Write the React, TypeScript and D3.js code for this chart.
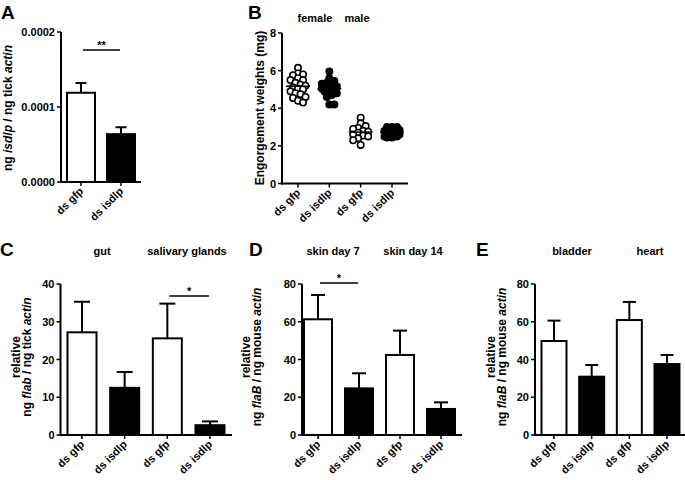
import React from 'react';
import * as d3 from 'd3';

const FONT = '"Liberation Sans", Arial, Helvetica, sans-serif';

// ---------------- Data ----------------
// Panel A
const aCategories = ['ds gfp', 'ds isdlp'];
const aMeans = [0.000119, 0.0000638];
const aErrors = [0.000013, 0.0000092];
const aTicks = [0, 0.0001, 0.0002];
const aSig = [{ from: 0, to: 1, value: 0.000176, label: '**' }];

// Panel B
const bCategories = ['ds gfp', 'ds isdlp', 'ds gfp', 'ds isdlp'];
const bHeaders = ['female', 'male'];
const bFemaleGfp = [6.15, 5.85, 5.8, 5.75, 5.6, 5.5, 5.5, 5.35, 5.25, 5.2, 5.1, 5.05, 5.0, 4.9, 4.8, 4.75, 4.6, 4.55, 4.4, 4.3];
const bFemaleIsdlp = [5.95, 5.6, 5.45, 5.35, 5.3, 5.2, 5.15, 5.1, 5.05, 5.0, 4.95, 4.9, 4.8, 4.7, 4.6, 4.2, 4.2];
const bMaleGfp = [3.5, 3.2, 3.05, 2.95, 2.9, 2.8, 2.75, 2.7, 2.6, 2.55, 2.5, 2.4, 2.3, 2.05];
const bMaleIsdlp = [3.0, 3.0, 3.0, 2.95, 2.9, 2.85, 2.8, 2.75, 2.7, 2.65, 2.6, 2.6, 2.55, 2.5, 2.5, 2.45, 2.45];
const bTicks = [0, 2, 4, 6, 8];

// Panel C
const cCategories = ['ds gfp', 'ds isdlp', 'ds gfp', 'ds isdlp'];
const cHeaders = ['gut', 'salivary glands'];
const cMeans = [27.2, 12.5, 25.6, 2.6];
const cErrors = [8.1, 4.2, 9.2, 1.0];
const cTicks = [0, 10, 20, 30, 40];
const cSig = [{ from: 2, to: 3, value: 36.8, label: '*' }];

// Panel D
const dCategories = ['ds gfp', 'ds isdlp', 'ds gfp', 'ds isdlp'];
const dHeaders = ['skin day 7', 'skin day 14'];
const dMeans = [61.3, 24.7, 42.4, 13.8];
const dErrors = [12.9, 8.0, 12.9, 3.5];
const dTicks = [0, 20, 40, 60, 80];
const dSig = [{ from: 0, to: 1, value: 80.5, label: '*' }];

// Panel E
const eCategories = ['ds gfp', 'ds isdlp', 'ds gfp', 'ds isdlp'];
const eHeaders = ['bladder', 'heart'];
const eMeans = [49.8, 30.9, 60.9, 37.6];
const eErrors = [10.8, 6.2, 9.6, 4.8];
const eTicks = [0, 20, 40, 60, 80];

// ---------------- Helpers ----------------
type Sig = { from: number; to: number; value: number; label: string };

function YLabelLines({ xs, y, lines, size = 12 }: { xs: number[]; y: number; lines: React.ReactNode[]; size?: number }) {
  return (
    <g>
      {lines.map((ln, i) => (
        <text
          key={i}
          transform={`translate(${xs[i]},${y}) rotate(-90)`}
          textAnchor="middle"
          fontFamily={FONT}
          fontWeight="bold"
          fontSize={size}
        >
          {ln}
        </text>
      ))}
    </g>
  );
}

function Axes({
  x,
  axisX,
  xEnd,
  y,
  ticks,
  fmt,
  categories,
}: {
  x: d3.ScalePoint<string>;
  axisX: number;
  xEnd: number;
  y: d3.ScaleLinear<number, number>;
  ticks: number[];
  fmt: (v: number) => string;
  categories: string[];
}) {
  const [y0, y1] = y.range();
  return (
    <g>
      <line x1={axisX} x2={axisX} y1={y1} y2={y0 + 1} stroke="#000" strokeWidth={2} />
      <line x1={axisX - 1} x2={xEnd} y1={y0} y2={y0} stroke="#000" strokeWidth={2} />
      {ticks.map((t) => (
        <g key={t}>
          <line x1={axisX - 4} x2={axisX} y1={y(t)} y2={y(t)} stroke="#000" strokeWidth={1.5} />
          <text
            x={axisX - 6}
            y={y(t) + 4}
            textAnchor="end"
            fontFamily={FONT}
            fontWeight="bold"
            fontSize={11}
          >
            {fmt(t)}
          </text>
        </g>
      ))}
      {categories.map((c, i) => {
        const cx = x(String(i))!;
        return (
          <g key={i}>
            <line x1={cx} x2={cx} y1={y0} y2={y0 + 4} stroke="#000" strokeWidth={1.5} />
            <text
              transform={`translate(${cx + 3},${y0 + 10}) rotate(-45)`}
              textAnchor="end"
              fontFamily={FONT}
              fontWeight="bold"
              fontSize={11}
            >
              {c}
            </text>
          </g>
        );
      })}
    </g>
  );
}

function BarPanel({
  categories,
  means,
  errors,
  ticks,
  fmt,
  axisX,
  yTop,
  yBottom,
  xEnd,
  c0,
  c1,
  barW,
  capW,
  sigs = [],
}: {
  categories: string[];
  means: number[];
  errors: number[];
  ticks: number[];
  fmt: (v: number) => string;
  axisX: number;
  yTop: number;
  yBottom: number;
  xEnd: number;
  c0: number;
  c1: number;
  barW: number;
  capW: number;
  sigs?: Sig[];
}) {
  const x = d3
    .scalePoint<string>()
    .domain(categories.map((_, i) => String(i)))
    .range([c0, c1]);
  const y = d3
    .scaleLinear()
    .domain([ticks[0], ticks[ticks.length - 1]])
    .range([yBottom, yTop]);
  return (
    <g>
      {means.map((m, i) => {
        const cx = x(String(i))!;
        const top = y(m + errors[i]);
        return (
          <g key={i}>
            <line x1={cx} x2={cx} y1={y(m)} y2={top} stroke="#000" strokeWidth={2} />
            <line x1={cx - capW / 2} x2={cx + capW / 2} y1={top} y2={top} stroke="#000" strokeWidth={2} />
            <rect
              x={cx - barW / 2}
              y={y(m)}
              width={barW}
              height={y(0) - y(m)}
              fill={i % 2 === 0 ? '#fff' : '#000'}
              stroke="#000"
              strokeWidth={2}
            />
          </g>
        );
      })}
      <Axes x={x} axisX={axisX} xEnd={xEnd} y={y} ticks={ticks} fmt={fmt} categories={categories} />
      {sigs.map((s, k) => {
        const xa = x(String(s.from))! + 2;
        const xb = x(String(s.to))! - 1;
        const yy = y(s.value);
        return (
          <g key={k}>
            <line x1={xa} x2={xb} y1={yy} y2={yy} stroke="#000" strokeWidth={1.5} />
            <text
              x={(xa + xb) / 2}
              y={yy - 1}
              textAnchor="middle"
              fontFamily={FONT}
              fontWeight="bold"
              fontSize={11}
            >
              {s.label}
            </text>
          </g>
        );
      })}
    </g>
  );
}

// Column-scatter layout: spreads points sideways only within a limited width,
// letting them overlap when crowded (as in GraphPad column scatter plots).
function swarm(values: number[], y: d3.ScaleLinear<number, number>, minDist: number, step: number, maxOff: number) {
  const order = values.map((_, i) => i).sort((a, b) => values[b] - values[a]);
  const placed: { dx: number; py: number }[] = [];
  const cands: number[] = [0];
  for (let k = 1; k * step <= maxOff; k++) cands.push(k * step, -k * step);
  for (const i of order) {
    const py = y(values[i]);
    let best = 0;
    let bestScore = -Infinity;
    for (const c of cands) {
      const md = placed.length
        ? Math.min(...placed.map((p) => Math.hypot(p.dx - c, p.py - py)))
        : Infinity;
      if (md >= minDist) {
        best = c;
        break;
      }
      if (md > bestScore) {
        bestScore = md;
        best = c;
      }
    }
    placed.push({ dx: best, py });
  }
  return placed;
}

function ScatterPanel() {
  const axisX = 282;
  const yTop = 33;
  const yBottom = 183.5;
  const xEnd = 408;
  const x = d3
    .scalePoint<string>()
    .domain(bCategories.map((_, i) => String(i)))
    .range([298, 392]);
  const y = d3.scaleLinear().domain([0, 8]).range([yBottom, yTop]);
  const groups = [bFemaleGfp, bFemaleIsdlp, bMaleGfp, bMaleIsdlp];
  return (
    <g>
      {groups.map((vals, gi) => {
        const cx = x(String(gi))!;
        const pts = swarm(vals, y, 5, 2.5, 8);
        const mean = d3.mean(vals)!;
        const open = gi % 2 === 0;
        return (
          <g key={gi}>
            {pts.map((p, k) => (
              <circle
                key={k}
                cx={cx + p.dx}
                cy={p.py}
                r={3.2}
                fill={open ? '#fff' : '#000'}
                stroke="#000"
                strokeWidth={1.6}
              />
            ))}
            <line x1={cx - 12} x2={cx + 12} y1={y(mean)} y2={y(mean)} stroke="#000" strokeWidth={1.5} />
          </g>
        );
      })}
      <Axes x={x} axisX={axisX} xEnd={xEnd} y={y} ticks={bTicks} fmt={(v) => String(v)} categories={bCategories} />
    </g>
  );
}

function Header({ x, y, text }: { x: number; y: number; text: string }) {
  return (
    <text x={x} y={y} textAnchor="middle" fontFamily={FONT} fontWeight="bold" fontSize={11}>
      {text}
    </text>
  );
}

function Letter({ x, y, text }: { x: number; y: number; text: string }) {
  return (
    <text x={x} y={y} fontFamily={FONT} fontWeight="bold" fontSize={19}>
      {text}
    </text>
  );
}

export default function App() {
  const fmtA = d3.format('.4f');
  const fmtInt = (v: number) => String(v);
  return (
    <svg
      width={685}
      height={480}
      viewBox="0 0 685 480"
      style={{ position: 'absolute', left: 0, top: 0, background: '#fff' }}
    >
      <rect x={0} y={0} width={685} height={480} fill="#fff" />
      {/* Panel A */}
      <Letter x={1} y={19} text="A" />
      <YLabelLines
        xs={[12]}
        y={108}
        lines={[
          <>
            ng <tspan fontStyle="italic">isdlp</tspan> / ng tick <tspan fontStyle="italic">actin</tspan>
          </>,
        ]}
      />
      <BarPanel
        categories={aCategories}
        means={aMeans}
        errors={aErrors}
        ticks={aTicks}
        fmt={fmtA}
        axisX={61}
        yTop={32}
        yBottom={182}
        xEnd={141}
        c0={81}
        c1={121}
        barW={28}
        capW={11}
        sigs={aSig}
      />

      {/* Panel B */}
      <Letter x={248} y={19} text="B" />
      <Header x={315} y={22} text={bHeaders[0]} />
      <Header x={357} y={22} text={bHeaders[1]} />
      <YLabelLines xs={[264]} y={108} lines={['Engorgement weights (mg)']} />
      <ScatterPanel />

      {/* Panel C */}
      <Letter x={0} y={256} text="C" />
      <Header x={102} y={255} text={cHeaders[0]} />
      <Header x={187} y={255} text={cHeaders[1]} />
      <YLabelLines
        xs={[20, 31]}
        y={357}
        lines={[
          'relative',
          <>
            ng <tspan fontStyle="italic">flab</tspan> / ng tick <tspan fontStyle="italic">actin</tspan>
          </>,
        ]}
      />
      <BarPanel
        categories={cCategories}
        means={cMeans}
        errors={cErrors}
        ticks={cTicks}
        fmt={fmtInt}
        axisX={60.5}
        yTop={284}
        yBottom={435}
        xEnd={232}
        c0={82}
        c1={210}
        barW={29}
        capW={16}
        sigs={cSig}
      />

      {/* Panel D */}
      <Letter x={249} y={256} text="D" />
      <Header x={333} y={255} text={dHeaders[0]} />
      <Header x={413} y={255} text={dHeaders[1]} />
      <YLabelLines
        xs={[250, 261]}
        y={357}
        lines={[
          'relative',
          <>
            ng <tspan fontStyle="italic">flaB</tspan> / ng mouse <tspan fontStyle="italic">actin</tspan>
          </>,
        ]}
      />
      <BarPanel
        categories={dCategories}
        means={dMeans}
        errors={dErrors}
        ticks={dTicks}
        fmt={fmtInt}
        axisX={302}
        yTop={284}
        yBottom={435}
        xEnd={462}
        c0={318}
        c1={441}
        barW={28}
        capW={14}
        sigs={dSig}
      />

      {/* Panel E */}
      <Letter x={476} y={256} text="E" />
      <Header x={572} y={255} text={eHeaders[0]} />
      <Header x={650} y={255} text={eHeaders[1]} />
      <YLabelLines
        xs={[495, 506]}
        y={357}
        lines={[
          'relative',
          <>
            ng <tspan fontStyle="italic">flaB</tspan> / ng mouse <tspan fontStyle="italic">actin</tspan>
          </>,
        ]}
      />
      <BarPanel
        categories={eCategories}
        means={eMeans}
        errors={eErrors}
        ticks={eTicks}
        fmt={fmtInt}
        axisX={535}
        yTop={284}
        yBottom={435}
        xEnd={685}
        c0={554}
        c1={667}
        barW={25}
        capW={13}
      />
    </svg>
  );
}
